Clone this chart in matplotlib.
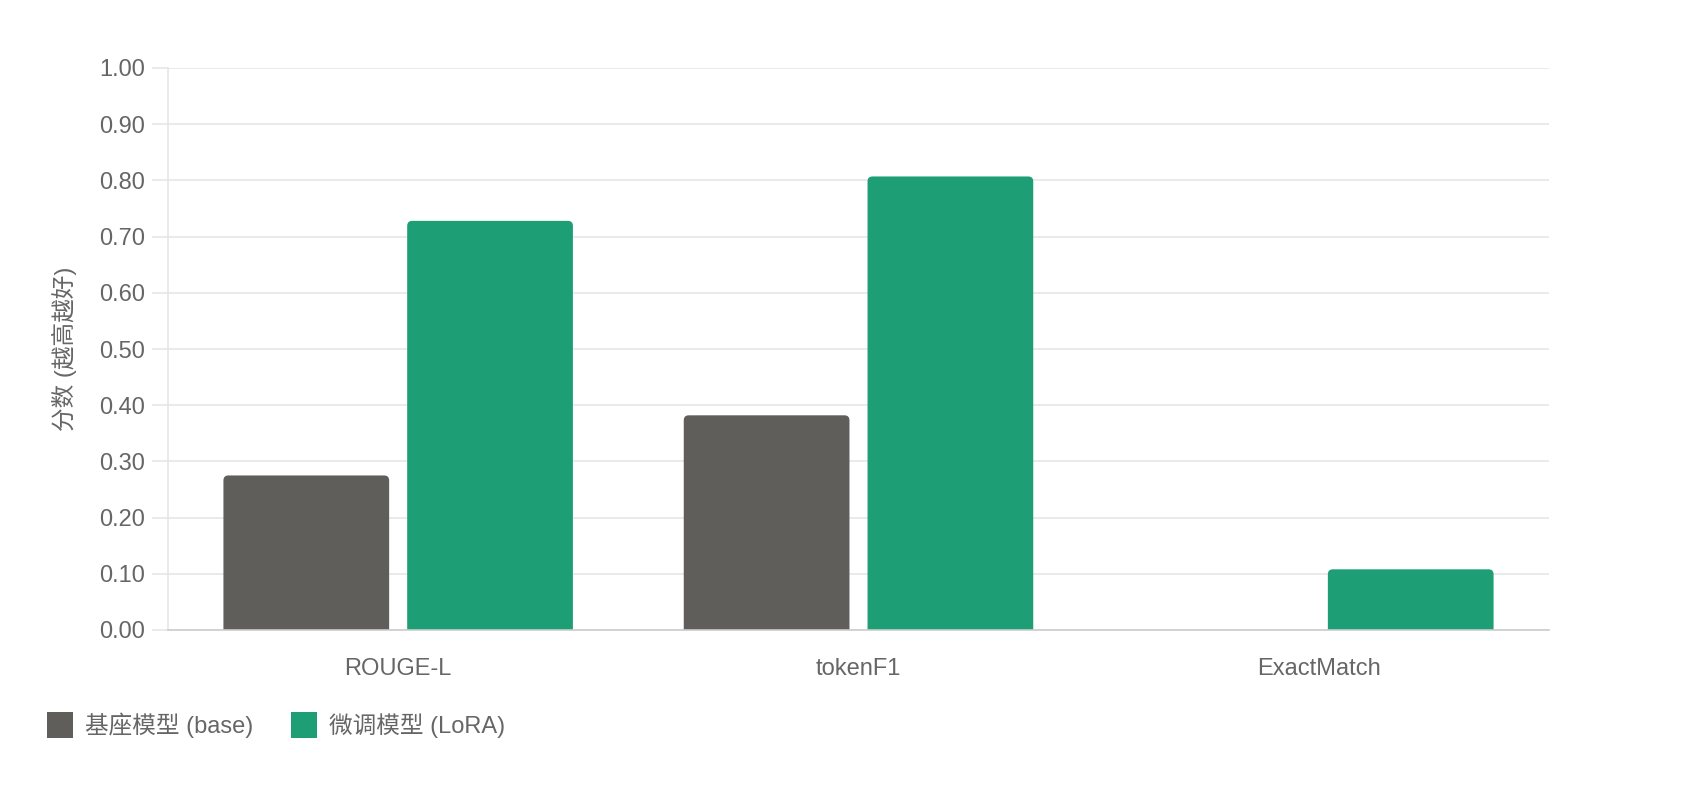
import numpy as np
import matplotlib
matplotlib.use("Agg")
import matplotlib.pyplot as plt
from matplotlib.patches import FancyBboxPatch, Patch

plt.rcParams['font.family'] = ['Liberation Sans', 'Noto Sans CJK SC', 'DejaVu Sans']

# Data
categories = ["ROUGE-L", "tokenF1", "ExactMatch"]
base_scores = [0.275, 0.382, 0.0]
lora_scores = [0.728, 0.807, 0.108]
series_names = ["基座模型 (base)", "微调模型 (LoRA)"]
y_ticks = [0.0, 0.1, 0.2, 0.3, 0.4, 0.5, 0.6, 0.7, 0.8, 0.9, 1.0]

base_color = "#5f5e5a"
lora_color = "#1d9e75"
text_color = "#666666"
grid_color = "#e6e6e6"

fig = plt.figure(figsize=(8.48, 3.96), dpi=200)
ax = fig.add_axes([168 / 1696, 1 - 630 / 792, (1549 - 168) / 1696, (630 - 68) / 792])

x = np.arange(len(categories))
bar_w = 0.36
offset = 0.1996

bars_base = ax.bar(x - offset, base_scores, bar_w, color=base_color)
bars_lora = ax.bar(x + offset, lora_scores, bar_w, color=lora_color)

ax.set_xlim(-0.5, len(categories) - 0.5)
ax.set_ylim(0, 1.0)

# swap plain bars for ones with rounded top corners
px_x = (1549 - 168) / 3.0   # pixels per x unit
px_y = (630 - 68) / 1.0     # pixels per y unit
radius_px = 5
for bars in (bars_base, bars_lora):
    for b in bars:
        h = b.get_height()
        if h <= 0:
            b.remove()
            continue
        fb = FancyBboxPatch(
            (b.get_x(), -0.02), b.get_width(), h + 0.02,
            boxstyle="round,pad=0,rounding_size=%f" % (radius_px / px_x),
            mutation_aspect=px_x / px_y,
            facecolor=b.get_facecolor(), edgecolor="none", zorder=2,
        )
        fb.set_clip_path(ax.patch)
        ax.add_patch(fb)
        b.remove()

ax.set_yticks(y_ticks)
ax.set_yticklabels(["%.2f" % v for v in y_ticks])
ax.set_xticks(x)
ax.set_xticklabels(categories)

ax.grid(axis="y", color=grid_color, linewidth=0.6)
ax.set_axisbelow(True)
ax.tick_params(axis="y", length=5.8, width=0.6, color=grid_color, pad=2.5,
               labelsize=8.5, labelcolor=text_color)
ax.tick_params(axis="x", length=0, pad=10, labelsize=8.5, labelcolor=text_color)

for s in ["top", "right"]:
    ax.spines[s].set_visible(False)
ax.spines["left"].set_color(grid_color)
ax.spines["left"].set_linewidth(0.6)
ax.spines["bottom"].set_color("#cccccc")
ax.spines["bottom"].set_linewidth(0.6)

ax.set_ylabel("分数 (越高越好)", fontsize=8.5, color=text_color, labelpad=8)

handles = [Patch(facecolor=base_color, edgecolor="none"),
           Patch(facecolor=lora_color, edgecolor="none")]
fig.legend(handles, series_names, loc="center left",
           bbox_to_anchor=(26 / 1696, 1 - 725 / 792), ncol=2, frameon=False,
           fontsize=8.5, labelcolor=text_color, handlelength=1.1,
           handleheight=1.3, handletextpad=0.5, columnspacing=1.6)

fig.savefig("out.png", dpi=200)
